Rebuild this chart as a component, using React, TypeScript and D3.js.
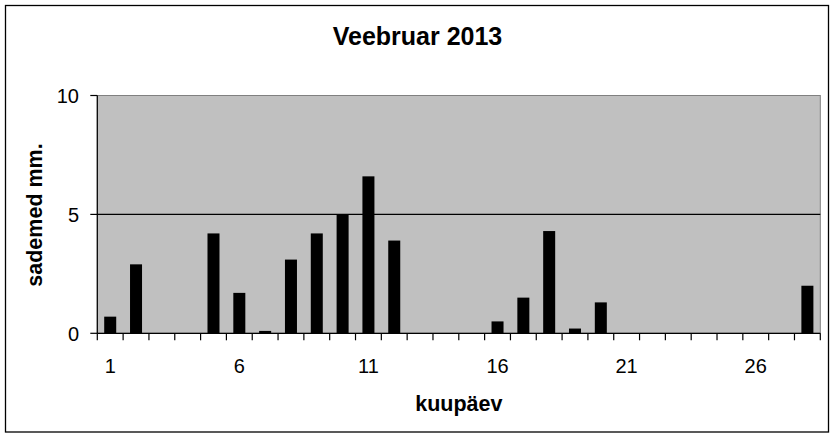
import React, { useEffect, useRef } from 'react';
import * as d3 from 'd3';

// päevad 1..28 ja sademed (mm)
const days = d3.range(1, 29).map(String);
const rain = [0.7, 2.9, 0, 0, 4.2, 1.7, 0.1, 3.1, 4.2, 5.0, 6.6, 3.9, 0, 0, 0, 0.5, 1.5, 4.3, 0.2, 1.3, 0, 0, 0, 0, 0, 0, 0, 2.0];
const yTicks = [0, 5, 10];
const xLabels = ['1', '6', '11', '16', '21', '26'];

const W = 835;
const H = 437;
const FONT = '"Liberation Sans", Arial, sans-serif';

export default function App() {
  const svgRef = useRef<SVGSVGElement>(null);

  useEffect(() => {
    if (!svgRef.current) return;
    const svg = d3.select(svgRef.current);
    svg.selectAll('*').remove();

    const plot = { left: 97.3, right: 820.3, top: 95.5, bottom: 333.3 };

    const x = d3.scaleBand<string>()
      .domain(days)
      .range([plot.left, plot.right])
      .paddingInner(0.535)
      .paddingOuter(0.2675);

    const y = d3.scaleLinear().domain([0, 10]).range([plot.bottom, plot.top]);

    // välimine raam
    svg.append('rect')
      .attr('x', 5.5).attr('y', 5.5)
      .attr('width', 823).attr('height', 426.5)
      .attr('fill', '#fff')
      .attr('stroke', '#000')
      .attr('stroke-width', 1.3);

    // joonise ala
    svg.append('rect')
      .attr('x', plot.left).attr('y', plot.top)
      .attr('width', plot.right - plot.left)
      .attr('height', plot.bottom - plot.top)
      .attr('fill', '#c0c0c0')
      .attr('stroke', '#808080')
      .attr('stroke-width', 1);

    // ruudustik
    svg.append('line')
      .attr('x1', plot.left).attr('x2', plot.right)
      .attr('y1', y(5)).attr('y2', y(5))
      .attr('stroke', '#000').attr('stroke-width', 1.2);

    // tulbad
    svg.append('g')
      .selectAll('rect')
      .data(rain)
      .join('rect')
      .attr('x', (_, i) => x(days[i])!)
      .attr('width', x.bandwidth())
      .attr('y', d => y(d))
      .attr('height', d => y(0) - y(d))
      .attr('fill', '#000');

    // teljed
    const axes = svg.append('g').attr('stroke', '#000').attr('stroke-width', 1.2);
    axes.append('line')
      .attr('x1', plot.left).attr('x2', plot.left)
      .attr('y1', plot.top).attr('y2', plot.bottom);
    axes.append('line')
      .attr('x1', plot.left).attr('x2', plot.right)
      .attr('y1', plot.bottom).attr('y2', plot.bottom);

    // y tikid
    yTicks.forEach(t => {
      axes.append('line')
        .attr('x1', plot.left - 7).attr('x2', plot.left)
        .attr('y1', y(t)).attr('y2', y(t));
      svg.append('text')
        .attr('x', 79).attr('y', y(t))
        .attr('dy', '0.36em')
        .attr('text-anchor', 'end')
        .attr('font-family', FONT)
        .attr('font-size', 20)
        .text(String(t));
    });

    // x tikid kategooriate vahel
    const step = x.step();
    d3.range(days.length + 1).forEach(i => {
      const px = plot.left + i * step;
      axes.append('line')
        .attr('x1', px).attr('x2', px)
        .attr('y1', plot.bottom).attr('y2', plot.bottom + 7);
    });

    xLabels.forEach(l => {
      svg.append('text')
        .attr('x', x(l)! + x.bandwidth() / 2)
        .attr('y', 373)
        .attr('text-anchor', 'middle')
        .attr('font-family', FONT)
        .attr('font-size', 20)
        .text(l);
    });

    // pealkirjad
    svg.append('text')
      .attr('x', 417.5).attr('y', 45)
      .attr('text-anchor', 'middle')
      .attr('font-family', FONT)
      .attr('font-weight', 'bold')
      .attr('font-size', 25)
      .text('Veebruar 2013');

    svg.append('text')
      .attr('x', (plot.left + plot.right) / 2).attr('y', 411)
      .attr('text-anchor', 'middle')
      .attr('font-family', FONT)
      .attr('font-weight', 'bold')
      .attr('font-size', 21.5)
      .text('kuupäev');

    svg.append('text')
      .attr('transform', `translate(42,215) rotate(-90)`)
      .attr('text-anchor', 'middle')
      .attr('font-family', FONT)
      .attr('font-weight', 'bold')
      .attr('font-size', 21.5)
      .text('sademed mm.');
  }, []);

  return (
    <svg
      ref={svgRef}
      width={W}
      height={H}
      style={{ position: 'absolute', left: 0, top: 0, background: '#fff' }}
    />
  );
}
